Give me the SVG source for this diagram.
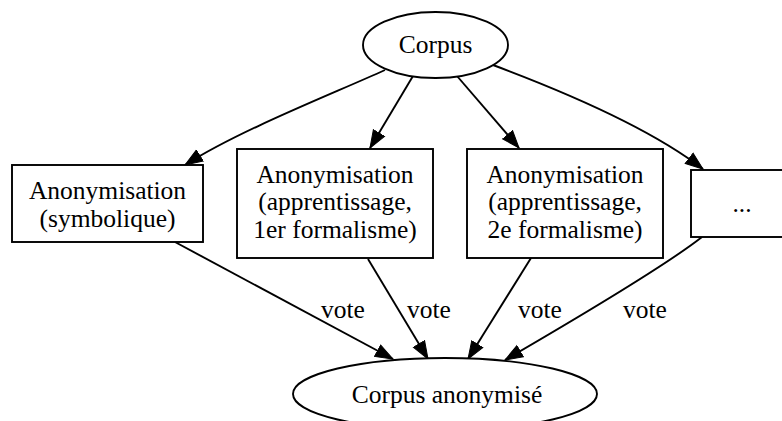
<svg xmlns="http://www.w3.org/2000/svg" width="782" height="421" viewBox="0 0 782 421">
<style>
text{font-family:"Liberation Serif","Times New Roman",serif;font-size:25.5px;fill:#000}
.c{text-anchor:middle}
.n{fill:#fff;stroke:#000;stroke-width:1.9}
.e{fill:none;stroke:#000;stroke-width:1.9}
</style>
<defs>
<marker id="ah" markerUnits="userSpaceOnUse" markerWidth="20" markerHeight="16" refX="18" refY="7" orient="auto" viewBox="0 0 20 14">
<path d="M0.5,0.5 L18,7 L0.5,13.5 z" fill="#000" stroke="#000" stroke-width="1"/>
</marker>
</defs>
<rect width="782" height="421" fill="#fff"/>
<g id="connectors">
<path class="e" d="M385,70 C330,95 240,130 185,165" marker-end="url(#ah)"/>
<path class="e" d="M413,76 L370,148" marker-end="url(#ah)"/>
<path class="e" d="M457,76 L519,148" marker-end="url(#ah)"/>
<path class="e" d="M493,65 C560,90 650,128 703,169" marker-end="url(#ah)"/>
<path class="e" d="M175,242 L393,359" marker-end="url(#ah)"/>
<path class="e" d="M368,259 L428,359" marker-end="url(#ah)"/>
<path class="e" d="M531,258 L468,359" marker-end="url(#ah)"/>
<path class="e" d="M702,237 C663.6,267 575.6,319 505,360" marker-end="url(#ah)"/>
<text x="321" y="318">vote</text>
<text x="407" y="318">vote</text>
<text x="518" y="318">vote</text>
<text x="623" y="318">vote</text>
</g>
<g id="corpus">
<ellipse class="n" cx="435.5" cy="45" rx="72.5" ry="33"/>
<text class="c" x="435.5" y="53">Corpus</text>
</g>
<g id="anon_symb">
<rect class="n" x="12" y="165" width="191" height="77"/>
<text class="c" x="107.5" y="199">Anonymisation</text>
<text class="c" x="107.5" y="227">(symbolique)</text>
</g>
<g id="anon_app1">
<rect class="n" x="237" y="149" width="196" height="109"/>
<text class="c" x="335" y="182.5">Anonymisation</text>
<text class="c" x="335" y="210">(apprentissage,</text>
<text class="c" x="335" y="237.5">1er formalisme)</text>
</g>
<g id="anon_app2">
<rect class="n" x="467" y="149" width="196" height="109"/>
<text class="c" x="565" y="182.5">Anonymisation</text>
<text class="c" x="565" y="210">(apprentissage,</text>
<text class="c" x="565" y="237.5">2e formalisme)</text>
</g>
<g id="other">
<rect class="n" x="691" y="170" width="102" height="67"/>
<text class="c" x="742" y="212">...</text>
</g>
<g id="corpus_anon">
<ellipse class="n" cx="445" cy="394" rx="152" ry="36"/>
<text class="c" x="447" y="403">Corpus anonymisé</text>
</g>
</svg>
